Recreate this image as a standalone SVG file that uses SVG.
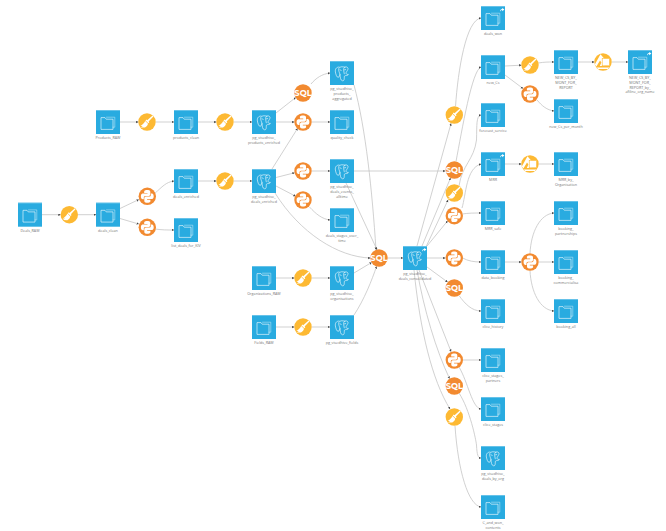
<svg xmlns="http://www.w3.org/2000/svg" xmlns:xlink="http://www.w3.org/1999/xlink" width="666" height="531" viewBox="0 0 666 531">
<style>
text{font-family:"Open Sans","Liberation Sans",sans-serif;font-size:3.7px;fill:#757575;text-anchor:middle}
.sq{fill:#29abe0}
.top{fill:#8fd3ef}
.ic{fill:none;stroke:#fff;stroke-width:.6;stroke-linejoin:round;stroke-linecap:round}
.ict{fill:none;stroke:#d3eef9;stroke-width:.5;stroke-linejoin:round;stroke-linecap:round}
.or{fill:#f28a30}
.ye{fill:#fdb933}
.w{fill:#fff}
.sql{font-family:"Montserrat","Open Sans","Liberation Sans",sans-serif;font-size:8.3px;font-weight:700;fill:#fff}
#edges path{fill:none;stroke:#c2c2c2;stroke-width:.75;marker-end:url(#a)}
</style>
<defs>
<marker id="a" markerUnits="userSpaceOnUse" markerWidth="3" markerHeight="3" refX="2.2" refY="1.2" orient="auto"><path d="M0,0L2.4,1.2L0,2.4Z" fill="#444"/></marker>
<g id="box"><rect class="sq" width="24" height="24"/><rect class="top" width="24" height=".6"/></g>
<g id="folder"><use xlink:href="#box"/><path class="ict" d="M10.500,7.200H18.800V17.200H17"/><path class="ic" d="M5,19V7.600H9L10.200,9.200H17V19Z"/></g>
<g id="pg"><use xlink:href="#box"/><path class="ic" d="M9,6C6,6 5,8.500 5.400,11C5.800,13.500 6.800,16.500 8.200,16.300C9.400,16.100 9.600,14.500 9.900,13.500M15,6.200C12.500,5.400 9.500,5.500 8.800,7.500C8.300,9 9.300,11.500 10,13.300C10.300,16 10.200,19.500 12.600,19.800C14.200,20 14.300,18 14.300,16.200C14.300,15 14.800,14.600 15.600,14.600C16.800,14.600 18.500,14.200 18.300,13.300C16.800,13.600 16,13 16,11.800C16.800,10.200 18.200,8.600 18,7.400C17.600,5.800 15.800,5.500 14.500,6.300C13,7.300 13.800,10.500 14.300,12.800"/><path class="ic" d="M10,8.800L11.200,9.400M14.600,8.800L15.700,8.600"/></g>
<path id="share" d="M19,5.800C19,3.800 20,3 21.200,3V2L23.400,3.600L21.200,5.200V4.100C20.300,4.100 19.500,4.600 19,5.800Z" fill="#fff"/>
<g id="broom"><circle class="ye" r="8.700"/><path class="w" d="M5.600,-6.400L6.400,-5.600L1.600,-.4L2.300,.3L1.300,1.300L-1.500,-1.500L-.5,-2.500L.2,-1.800Z"/><path class="w" d="M-1.800,-1.100L1,1.700C.6,3.400 -.6,4.600 -2,5.600L-6.400,5.400L-4.200,3.900L-6.600,4.100C-4.400,2.600 -2.800,.8 -1.800,-1.100Z"/></g>
<g id="py"><circle class="or" r="8.700"/><path id="py1" class="w" d="M-.1,-6.400C-3.200,-6.400 -3.100,-4.900 -3.100,-4.900V-3.400H.2V-2.800H-4.400C-4.400,-2.800 -6.400,-3 -6.400,0C-6.400,3 -4.600,2.900 -4.600,2.900H-3.500V1.400C-3.500,1.400 -3.600,-.3 -1.800,-.3H1.200C1.200,-.3 3,-.3 3,-2V-4.700C3,-4.700 3.200,-6.400 -.1,-6.400Z"/><use xlink:href="#py1" transform="rotate(180)"/></g>
<g id="sqlc"><circle class="or" r="8.700"/><text class="sql" y="3">SQL</text></g>
<g id="shape"><circle class="ye" r="8.700"/><path class="w" d="M-8.200,2.500L-2.500,-7.800L1.500,-3V4H-3.200L-1.600,.6L-3,-1.600L-6.600,4.600ZM-6.400,5.400H6.400L5,7H-5Z"/><rect x="-.8" y="-3.600" width="7.400" height="7.400" fill="#fff" stroke="#fdb933" stroke-width=".6"/></g>
</defs>
<rect width="666" height="531" fill="#fff"/>
<g id="edges">
<path d="M42,214.700H60.500"/><path d="M77.700,214.700H96"/>
<path d="M120,208.500L138.700,199.600"/><path d="M120,218.500L138.700,224"/>
<path d="M155.200,193C162,187 166,182 174,181"/><path d="M155.200,229C162,230 167,230 174,230"/>
<path d="M120,122H138.300"/><path d="M155.700,122H174"/><path d="M198,122H216.300"/><path d="M233.700,122H252"/>
<path d="M198,181H216.300"/><path d="M233.700,181H252"/>
<path d="M276,113L295.700,97.500"/><path d="M276,122H294.300"/><path d="M272,169L297.500,128.500"/>
<path d="M276,177.500L294.500,172.800"/><path d="M276,186L295.500,196.200"/>
<path d="M311,84C316,78 322,74 330,73"/><path d="M311.700,122H330"/><path d="M311.700,171H330"/><path d="M309.500,207C316,214 322,219 330,220"/>
<path d="M354,85C366,130 372,190 376,249.500"/>
<path d="M346,183L377,249.700"/>
<path d="M275,193C300,233 338,257 370.300,258"/>
<path d="M354,273L371.500,262.500"/>
<path d="M354,315C364,300 372,280 376.500,266.500"/>
<path d="M276,278H294.300"/><path d="M311.700,278H330"/><path d="M276,327H294.300"/><path d="M311.700,327H330"/>
<path d="M387.700,258H403"/>
<path d="M354,171H445.300"/>
<path d="M417,246L451,123.500"/>
<path d="M422,246L450.500,178"/>
<path d="M425,249L448,200"/>
<path d="M427,246L447.500,221"/>
<path d="M427,258H445.300"/>
<path d="M427,267L447.500,282"/>
<path d="M419,270L451,351.500"/>
<path d="M417,270C424,310 436,350 449.500,378.500"/>
<path d="M414,270C420,330 432,380 450,409"/>
<path d="M455.500,106.500C458,70 466,20 481,18"/>
<path d="M456,161.500C462,130 472,70 481,67"/>
<path d="M459,186C462,165 474,160 476.500,140C477,125 476,116 481,115"/>
<path d="M462,208C466,195 466,168 481,164"/>
<path d="M462.500,214C468,213 474,213 481,213"/>
<path d="M462.700,258C468,261 474,262 481,262"/>
<path d="M459,295.500C465,304 472,311 481,311"/>
<path d="M462.700,360H481"/>
<path d="M459,367C468,382 472,408 481,409"/>
<path d="M459,393C470,410 476,440 476.500,445C477,455 478,458 481,458"/>
<path d="M455,426C458,470 468,505 481,507"/>
<path d="M505,66L521.300,65.200"/><path d="M505,75L523,88.500"/>
<path d="M538.500,63C544,62 548,62 554,62"/><path d="M537,100C542,106 547,110 554,111"/>
<path d="M578,62H594.300"/><path d="M611.700,62H628"/>
<path d="M505,164H521.300"/><path d="M538.700,164H554"/>
<path d="M505,262H521.300"/>
<path d="M530,253.500C531,232 540,214 554,213"/><path d="M538.700,262H554"/><path d="M530,270.500C531,292 540,310 554,311"/>
</g>
<g id="Deals_RAW"><use xlink:href="#folder" x="18" y="202.700"/><text x="30" y="232">Deals_RAW</text></g>
<g id="broom1"><use xlink:href="#broom" x="69.300" y="214.700"/></g>
<g id="deals_clean"><use xlink:href="#folder" x="96" y="202.700"/><text x="108" y="232">deals_clean</text></g>
<g id="py1n"><use xlink:href="#py" x="147.300" y="196.300"/></g>
<g id="py2n"><use xlink:href="#py" x="147.300" y="227.300"/></g>
<g id="Products_RAW"><use xlink:href="#folder" x="96" y="110"/><text x="108" y="139">Products_RAW</text></g>
<g id="broom2"><use xlink:href="#broom" x="147" y="122"/></g>
<g id="products_clean"><use xlink:href="#folder" x="174" y="110"/><text x="186" y="139">products_clean</text></g>
<g id="broom3"><use xlink:href="#broom" x="225" y="122"/></g>
<g id="deals_enriched"><use xlink:href="#folder" x="174" y="169"/><text x="186" y="198">deals_enriched</text></g>
<g id="broom4"><use xlink:href="#broom" x="225" y="181"/></g>
<g id="list_deals_for_KIV"><use xlink:href="#folder" x="174" y="218"/><text x="186" y="247">list_deals_for_KIV</text></g>
<g id="pg_products_enriched"><use xlink:href="#pg" x="252" y="110"/><text x="264" y="139">pg_visedhive_</text><text x="264" y="143.800">products_enriched</text></g>
<g id="pg_deals_enriched"><use xlink:href="#pg" x="252" y="169"/><text x="264" y="198">pg_visedhive_</text><text x="264" y="202.800">deals_enriched</text></g>
<g id="sql1"><use xlink:href="#sqlc" x="303" y="93"/></g>
<g id="py3"><use xlink:href="#py" x="303" y="122"/></g>
<g id="py4"><use xlink:href="#py" x="303" y="171"/></g>
<g id="py5"><use xlink:href="#py" x="303" y="200"/></g>
<g id="pg_aggregated"><use xlink:href="#pg" x="330" y="61"/><text x="342" y="90">pg_visedhive_</text><text x="342" y="94.800">products_</text><text x="342" y="99.600">aggregated</text></g>
<g id="quality_check"><use xlink:href="#folder" x="330" y="110"/><text x="342" y="139">quality_check</text></g>
<g id="pg_events"><use xlink:href="#pg" x="330" y="159"/><text x="342" y="188">pg_visedhive_</text><text x="342" y="192.800">deals_events_</text><text x="342" y="197.600">alltime</text></g>
<g id="deals_stages"><use xlink:href="#folder" x="330" y="208"/><text x="342" y="237">deals_stages_over_</text><text x="342" y="241.800">time</text></g>
<g id="Organizations_RAW"><use xlink:href="#folder" x="252" y="266"/><text x="264" y="295">Organizations_RAW</text></g>
<g id="broom5"><use xlink:href="#broom" x="303" y="278"/></g>
<g id="pg_organisations"><use xlink:href="#pg" x="330" y="266"/><text x="342" y="295">pg_visedhive_</text><text x="342" y="299.800">organisations</text></g>
<g id="Fields_RAW"><use xlink:href="#folder" x="252" y="315"/><text x="264" y="344">Fields_RAW</text></g>
<g id="broom6"><use xlink:href="#broom" x="303" y="327"/></g>
<g id="pg_fields"><use xlink:href="#pg" x="330" y="315"/><text x="342" y="344">pg_visedhive_fields</text></g>
<g id="sql2"><use xlink:href="#sqlc" x="379" y="258"/></g>
<g id="pg_consolidated"><use xlink:href="#pg" x="403" y="246"/><use xlink:href="#share" x="403" y="246"/><text x="415" y="275">pg_visedhive_</text><text x="415" y="279.800">deals_consolidated</text></g>
<g id="broom7"><use xlink:href="#broom" x="454.300" y="115"/></g>
<g id="sql3"><use xlink:href="#sqlc" x="454.300" y="170"/></g>
<g id="broom8"><use xlink:href="#broom" x="454.300" y="193"/></g>
<g id="py6"><use xlink:href="#py" x="454.300" y="215.700"/></g>
<g id="py7"><use xlink:href="#py" x="454.300" y="258"/></g>
<g id="sql4"><use xlink:href="#sqlc" x="454.300" y="288"/></g>
<g id="py8"><use xlink:href="#py" x="454.300" y="360"/></g>
<g id="sql5"><use xlink:href="#sqlc" x="454.300" y="386"/></g>
<g id="broom9"><use xlink:href="#broom" x="454.300" y="417"/></g>
<g id="deals_won"><use xlink:href="#folder" x="481" y="6"/><use xlink:href="#share" x="481" y="6"/><text x="493" y="35">deals_won</text></g>
<g id="new_Cs"><use xlink:href="#folder" x="481" y="55"/><text x="493" y="84">new_Cs</text></g>
<g id="forecast_service"><use xlink:href="#folder" x="481" y="103"/><text x="493" y="132">forecast_service</text></g>
<g id="MRR"><use xlink:href="#folder" x="481" y="152"/><use xlink:href="#share" x="481" y="152"/><text x="493" y="181">MRR</text></g>
<g id="MRR_safe"><use xlink:href="#folder" x="481" y="201"/><text x="493" y="230">MRR_safe</text></g>
<g id="data_booking"><use xlink:href="#folder" x="481" y="250"/><text x="493" y="279">data_booking</text></g>
<g id="clice_history"><use xlink:href="#folder" x="481" y="299"/><text x="493" y="328">clice_history</text></g>
<g id="clice_stages_partners"><use xlink:href="#folder" x="481" y="348"/><text x="493" y="377">clice_stages_</text><text x="493" y="381.800">partners</text></g>
<g id="clice_stages"><use xlink:href="#folder" x="481" y="397"/><text x="493" y="426">clice_stages</text></g>
<g id="pg_deals_by_org"><use xlink:href="#pg" x="481" y="446"/><text x="493" y="475">pg_visedhive_</text><text x="493" y="479.800">deals_by_org</text></g>
<g id="C_and_won"><use xlink:href="#folder" x="481" y="495"/><text x="493" y="524">C_and_won_</text><text x="493" y="528.800">contents</text></g>
<g id="broom10"><use xlink:href="#broom" x="530" y="65"/></g>
<g id="py9"><use xlink:href="#py" x="530" y="94"/></g>
<g id="shape1"><use xlink:href="#shape" x="530" y="164"/></g>
<g id="py10"><use xlink:href="#py" x="530" y="262"/></g>
<g id="NEW_CS"><use xlink:href="#folder" x="554" y="50"/><text x="566" y="79">NEW_CS_BY_</text><text x="566" y="83.800">MONT_FOR_</text><text x="566" y="88.600">REPORT</text></g>
<g id="new_Cs_per_month"><use xlink:href="#folder" x="554" y="99"/><text x="566" y="128">new_Cs_per_month</text></g>
<g id="MRR_by_Organisation"><use xlink:href="#folder" x="554" y="152"/><text x="566" y="181">MRR_by_</text><text x="566" y="185.800">Organisation</text></g>
<g id="booking_partnerships"><use xlink:href="#folder" x="554" y="201"/><text x="566" y="230">booking_</text><text x="566" y="234.800">partnerships</text></g>
<g id="booking_commercialisa"><use xlink:href="#folder" x="554" y="250"/><text x="566" y="279">booking_</text><text x="566" y="283.800">commercialisa</text></g>
<g id="booking_all"><use xlink:href="#folder" x="554" y="299"/><text x="566" y="328">booking_all</text></g>
<g id="shape2"><use xlink:href="#shape" x="603" y="62"/></g>
<g id="NEW_CS_final"><use xlink:href="#folder" x="628" y="50"/><use xlink:href="#share" x="628" y="50"/><text x="640" y="79">NEW_CS_BY_</text><text x="640" y="83.800">MONT_FOR_</text><text x="640" y="88.600">REPORT_by_</text><text x="640" y="93.400">afiline_org_name</text></g>
</svg>
